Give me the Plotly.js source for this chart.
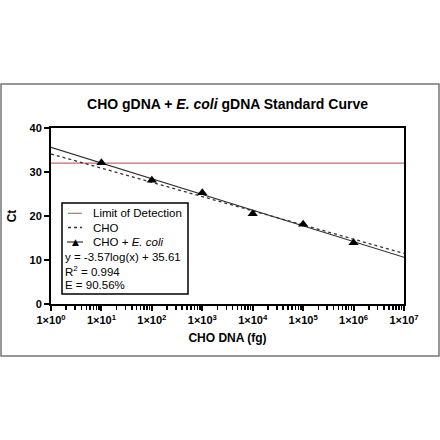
<!DOCTYPE html>
<html>
<head>
<meta charset="utf-8">
<script src="https://cdn.plot.ly/plotly-3.0.1.min.js"></script>
<style>html,body{margin:0;padding:0;background:#fff;}#chart{width:440px;height:440px;}</style>
</head>
<body>
<div id="chart"></div>
<script>
// Data
const dnaFg = [1e1, 1e2, 1e3, 1e4, 1e5, 1e6];
const ctEcoli = [32.1, 28.1, 25.3, 20.5, 18.1, 13.9];
const fitX = [1, 1e7];
const fitEcoliY = [35.61, 10.62];
const fitChoY = [34.1, 11.5];
const lodX = [1, 1e7];
const lodY = [32, 32];
const xTickVals = [1, 1e1, 1e2, 1e3, 1e4, 1e5, 1e6, 1e7];
const xTickText = ['1×10<sup>0</sup>','1×10<sup>1</sup>','1×10<sup>2</sup>','1×10<sup>3</sup>','1×10<sup>4</sup>','1×10<sup>5</sup>','1×10<sup>6</sup>','1×10<sup>7</sup>'];
const seriesNames = ['Limit of Detection', 'CHO', 'CHO + <i>E. coli</i>'];
const statLines = ['y = -3.57log(x) + 35.61', 'R<sup>2</sup> = 0.994', 'E = 90.56%'];

const FONT = 'Liberation Sans, Arial, Helvetica, sans-serif';
const L = 51, R = 404, T = 128, B = 304;
const px = v => (v - L) / (R - L);
const py = v => (B - v) / (B - T);

const LOD_COLOR = '#c96a6a';
const LINE_COLOR = '#333333';

const traces = [
  {x: lodX, y: lodY, mode: 'lines', name: seriesNames[0],
   line: {color: LOD_COLOR, width: 1.2}},
  {x: fitX, y: fitChoY, mode: 'lines', name: seriesNames[1],
   line: {color: LINE_COLOR, width: 1.3, dash: 'dot'}},
  {x: fitX, y: fitEcoliY, mode: 'lines', name: 'CHO + E. coli fit',
   line: {color: LINE_COLOR, width: 1.2}},
  {x: dnaFg, y: ctEcoli, mode: 'markers', name: seriesNames[2],
   marker: {symbol: 'triangle-up', size: 9, color: '#000'}}
];

// Legend (custom, drawn inside a boxed panel)
const rowY = [213.3, 227.5, 242, 256.7, 271, 284.5];
const annotations = [];
seriesNames.forEach((t, i) => annotations.push({
  xref: 'paper', yref: 'paper', x: px(91), y: py(rowY[i]),
  xanchor: 'left', yanchor: 'middle', showarrow: false, text: t,
  font: {family: FONT, size: 11.5, color: '#000'}
}));
statLines.forEach((t, i) => annotations.push({
  xref: 'paper', yref: 'paper', x: px(63), y: py(rowY[i + 3]),
  xanchor: 'left', yanchor: 'middle', showarrow: false, text: t,
  font: {family: FONT, size: 11.5, color: '#000'}
}));
annotations.push({
  xref: 'paper', yref: 'paper', x: px(75), y: py(rowY[2] - 0.5),
  xanchor: 'center', yanchor: 'middle', showarrow: false, text: '▲',
  font: {family: 'DejaVu Sans, sans-serif', size: 9, color: '#000'}
});

const layout = {
  width: 440, height: 440,
  margin: {l: L, r: 440 - R, t: T, b: 440 - B},
  paper_bgcolor: '#fff', plot_bgcolor: '#fff',
  font: {family: FONT, color: '#000'},
  title: {text: 'CHO gDNA + <i>E. coli</i> gDNA Standard Curve',
    x: 227.5 / 440, xanchor: 'center', xref: 'container', y: 1 - 104 / 440, yanchor: 'middle', yref: 'container',
    font: {family: FONT, size: 14, weight: 'bold', color: '#000'}},
  xaxis: {type: 'log', range: [0, 7], tickmode: 'array', tickvals: xTickVals, ticktext: xTickText,
    showline: true, linecolor: '#000', linewidth: 2, mirror: true,
    ticks: 'outside', ticklen: 5, tickwidth: 2, tickcolor: '#000',
    minor: {ticks: 'outside', ticklen: 4, tickwidth: 1.5, tickcolor: '#000', dtick: 'D1', showgrid: false},
    showgrid: false, zeroline: false,
    tickfont: {family: FONT, size: 11, weight: 'bold'},
    title: {text: 'CHO DNA (fg)', standoff: 8, font: {family: FONT, size: 12, weight: 'bold'}}},
  yaxis: {range: [0, 40], dtick: 10, tick0: 0,
    showline: true, linecolor: '#000', linewidth: 2, mirror: true,
    ticks: 'outside', ticklen: 5, tickwidth: 2, tickcolor: '#000',
    showgrid: false, zeroline: false,
    tickfont: {family: FONT, size: 11, weight: 'bold'},
    title: {text: 'Ct', standoff: 10, font: {family: FONT, size: 12, weight: 'bold'}}},
  showlegend: false,
  shapes: [
    {type: 'rect', xref: 'paper', yref: 'paper', x0: px(62), x1: px(188), y0: py(294), y1: py(203),
     line: {color: '#000', width: 1.5}, fillcolor: '#fff', layer: 'above'},
    {type: 'line', xref: 'paper', yref: 'paper', x0: px(68), x1: px(82), y0: py(rowY[0]), y1: py(rowY[0]),
     line: {color: LOD_COLOR, width: 1.2}},
    {type: 'line', xref: 'paper', yref: 'paper', x0: px(68), x1: px(82), y0: py(rowY[1]), y1: py(rowY[1]),
     line: {color: LINE_COLOR, width: 1.3, dash: 'dot'}},
    {type: 'line', xref: 'paper', yref: 'paper', x0: px(67), x1: px(83), y0: py(rowY[2]), y1: py(rowY[2]),
     line: {color: LINE_COLOR, width: 1.2}},
    {type: 'rect', xref: 'paper', yref: 'paper', x0: px(1), x1: px(439), y0: py(356), y1: py(84),
     line: {color: '#777', width: 1.5}, layer: 'below'}
  ],
  annotations: annotations
};

Plotly.newPlot('chart', traces, layout, {displayModeBar: false, staticPlot: true});
</script>
</body>
</html>
